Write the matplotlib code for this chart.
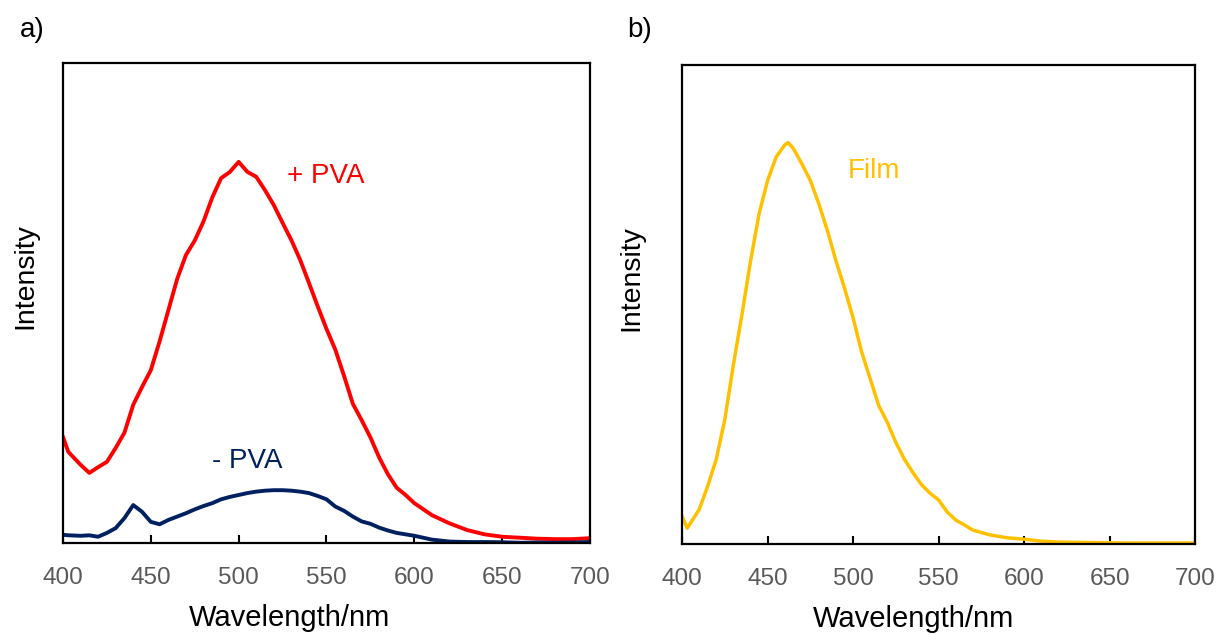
import numpy as np
import matplotlib
matplotlib.use("Agg")
import matplotlib.pyplot as plt

plt.rcParams['font.family'] = ['Liberation Sans', 'DejaVu Sans']

# Dados (intensidade em unidades arbitrárias, 0-100)
wl_a = [400, 403, 410, 415, 420, 425, 430, 435, 440, 445, 450, 455, 460, 465, 470,
        475, 480, 485, 490, 495, 500, 505, 510, 515, 520, 525, 530, 535, 540, 545,
        550, 555, 560, 565, 570, 575, 580, 585, 590, 595, 600, 610, 620, 630, 640,
        650, 660, 670, 680, 690, 700]
com_pva = [22.1, 19.0, 16.3, 14.6, 15.8, 16.9, 19.8, 23.0, 28.8, 32.5, 36.0, 42.0, 48.5, 55.0, 60.0,
           63.0, 67.0, 72.0, 76.0, 77.3, 79.4, 77.3, 76.3, 73.5, 70.4, 66.7, 63.1, 59.0, 54.2, 49.3,
           44.6, 40.3, 34.8, 29.0, 25.6, 22.0, 17.8, 14.3, 11.5, 10.0, 8.3, 5.8, 4.1, 2.7, 1.8,
           1.3, 1.1, 0.9, 0.8, 0.8, 1.0]
sem_pva = [1.7, 1.6, 1.5, 1.6, 1.3, 2.1, 3.1, 5.2, 7.9, 6.5, 4.4, 3.9, 4.8, 5.5, 6.2,
           7.0, 7.7, 8.3, 9.1, 9.6, 10.0, 10.4, 10.7, 10.9, 11.0, 11.0, 10.9, 10.7, 10.4, 9.8,
           9.1, 7.6, 6.7, 5.5, 4.5, 4.0, 3.2, 2.6, 2.1, 1.8, 1.5, 0.7, 0.3, 0.2, 0.2,
           0.15, 0.05, 0.1, 0.05, 0.1, 0.2]

wl_b = [400, 403, 410, 415, 420, 425, 430, 435, 440, 445, 450, 455, 460, 462, 465,
        470, 475, 480, 485, 490, 495, 500, 505, 510, 515, 520, 525, 530, 535, 540,
        545, 550, 555, 560, 565, 570, 575, 580, 590, 600, 610, 620, 640, 660, 700]
filme = [5.8, 3.3, 7.2, 12.1, 17.7, 26.0, 37.4, 47.9, 59.0, 68.9, 75.9, 80.8, 83.3, 83.8, 82.6,
         79.4, 75.9, 71.0, 65.4, 59.1, 53.4, 47.2, 40.1, 34.5, 28.9, 25.4, 21.2, 17.7, 14.9, 12.4,
         10.6, 9.2, 6.7, 5.0, 4.0, 2.9, 2.4, 1.9, 1.3, 1.0, 0.6, 0.4, 0.3, 0.2, 0.2]

ticks_x = [400, 450, 500, 550, 600, 650, 700]

fig = plt.figure(figsize=(12.18, 6.35), dpi=100)
ax1 = fig.add_axes([0.0517, 0.1449, 0.4327, 0.7559])
ax2 = fig.add_axes([0.5600, 0.1433, 0.4212, 0.7543])

ax1.plot(wl_a, com_pva, color='#FF0000', lw=2.8)
ax1.plot(wl_a, sem_pva, color='#002060', lw=2.8)
ax2.plot(wl_b, filme, color='#FFC000', lw=2.5)

ax1.text(527.5, 76.5, '+ PVA', color='#FF0000', fontsize=20, ha='left', va='center')
ax1.text(484.8, 17.0, '- PVA', color='#002060', fontsize=20, ha='left', va='center')
ax2.text(497, 77.9, 'Film', color='#FFC000', fontsize=20, ha='left', va='center')

# Configurações comuns dos eixos
for ax, xl, yl in [(ax1, 0.429, -0.047), (ax2, 0.451, -0.074)]:
    ax.set_xlim(400, 700)
    ax.set_ylim(0, 100)
    ax.set_xticks(ticks_x)
    ax.set_yticks([])
    ax.tick_params(axis='x', direction='in', length=6, width=1.5, pad=17,
                   labelsize=17.5, labelcolor='#595959')
    for s in ax.spines.values():
        s.set_linewidth(1.6)
    ax.set_xlabel('Wavelength/nm', fontsize=21)
    ax.set_ylabel('Intensity', fontsize=20.5)
    ax.xaxis.set_label_coords(xl, -0.127)
    ax.yaxis.set_label_coords(yl, 0.556)

fig.text(20 / 1218, 1 - 30 / 635, 'a)', fontsize=20, va='center')
fig.text(627 / 1218, 1 - 30 / 635, 'b)', fontsize=20, va='center')

fig.savefig('out.png', dpi=100)
